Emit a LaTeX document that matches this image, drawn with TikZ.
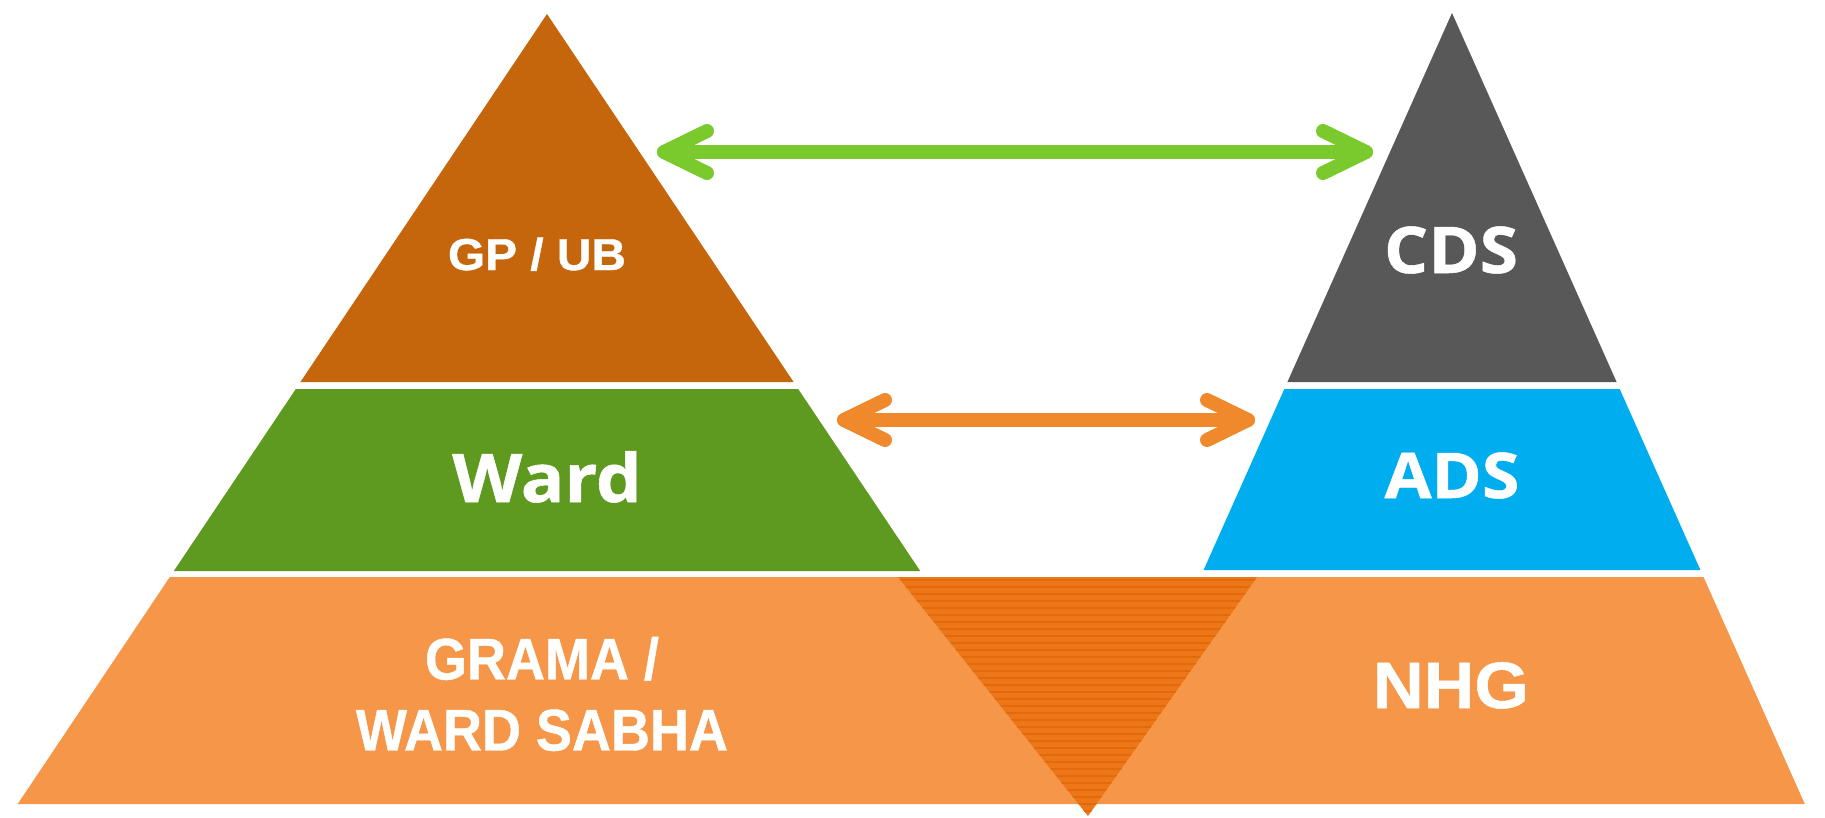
\documentclass[tikz,border=0pt]{standalone}
\usepackage{fontspec}
\newfontfamily\arialfont{Liberation Sans}[FakeStretch=1.07, FakeBold=0.8]
\newfontfamily\arialnarrow{Liberation Sans}[FakeStretch=0.92, FakeBold=0.8]
\newfontfamily\segoefont{Open Sans}[FakeStretch=1.08, FakeBold=0.8]
\definecolor{brownc}{RGB}{197,102,12}
\definecolor{greenc}{RGB}{94,154,31}
\definecolor{grayc}{RGB}{88,88,88}
\definecolor{bluec}{RGB}{0,174,239}
\definecolor{orangec}{RGB}{245,150,72}
\definecolor{invorc}{RGB}{237,118,22}
\definecolor{stripec}{RGB}{224,106,12}
\definecolor{garrowc}{RGB}{122,202,45}
\definecolor{oarrowc}{RGB}{240,137,44}
\tikzset{
  lbl/.style={text=white, inner sep=0pt, anchor=base},
  arrowline/.style={line width=14pt, line cap=round, line join=round},
  garrow/.style={arrowline, draw=garrowc},
  oarrow/.style={arrowline, draw=oarrowc},
  stripe/.style={draw=stripec, line width=1.2pt}
}
\begin{document}
\begin{tikzpicture}[x=1pt,y=-1pt]
\useasboundingbox (0,0) rectangle (1825,817);
% left pyramid
\fill[brownc] (547,14) -- (300.4,382) -- (793.6,382) -- cycle;
\fill[greenc] (295.8,389) -- (798.2,389) -- (920.2,571) -- (173.8,571) -- cycle;
% right pyramid
\fill[grayc] (1452,13) -- (1287.4,382) -- (1616.6,382) -- cycle;
\fill[bluec] (1284.3,389) -- (1619.7,389) -- (1700.4,570) -- (1203.6,570) -- cycle;
% common base band
\fill[orangec] (169.8,577) -- (1703.5,577) -- (1804.8,804) -- (17.7,804) -- cycle;
% inverted striped triangle
\begin{scope}
  \clip (898,577) -- (1257,577) -- (1088,816) -- cycle;
  \fill[invorc] (890,570) rectangle (1265,817);
  \foreach \yy in {580,587,...,816} \draw[stripe] (890,\yy) -- (1265,\yy);
\end{scope}
% labels
\node[lbl, font=\arialfont\bfseries\fontsize{44.7}{50}\selectfont] (gpub) at (537,270) {GP / UB};
\node[lbl, font=\segoefont\bfseries\fontsize{67}{75}\selectfont] (ward) at (547,502) {Ward};
\node[text=white, inner sep=0pt, align=center, font=\arialnarrow\bfseries\fontsize{58.7}{71}\selectfont] (sabha) at (542,694) {GRAMA /\\WARD SABHA};
\node[lbl, font=\segoefont\bfseries\fontsize{64.4}{70}\selectfont] (cds) at (1451,273) {CDS};
\node[lbl, font=\segoefont\bfseries\fontsize{63}{70}\selectfont] (ads) at (1452,498) {ADS};
\node[lbl, font=\arialfont\bfseries\fontsize{65.6}{72}\selectfont] (nhg) at (1451,708) {NHG};
% arrows
\coordinate (gL) at (664,152);
\coordinate (gR) at (1366,152);
\draw[garrow] (gL) -- (gR);
\draw[garrow] (gL) ++(43,-21) -- (gL) -- ++(43,21);
\draw[garrow] (gR) ++(-43,-21) -- (gR) -- ++(-43,21);
\coordinate (oL) at (844,420);
\coordinate (oR) at (1248,420);
\draw[oarrow] (oL) -- (oR);
\draw[oarrow] (oL) ++(41,-20) -- (oL) -- ++(41,20);
\draw[oarrow] (oR) ++(-41,-20) -- (oR) -- ++(-41,20);
\end{tikzpicture}
\end{document}
